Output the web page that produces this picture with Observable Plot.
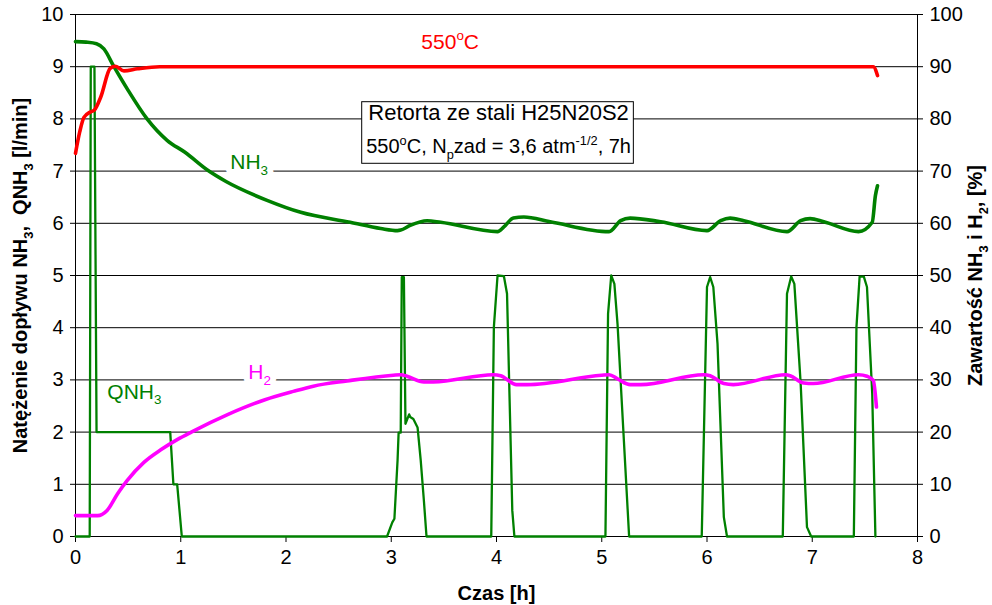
<!DOCTYPE html>
<html>
<head>
<meta charset="utf-8">
<script src="https://cdn.jsdelivr.net/npm/d3@7"></script>
<script src="https://cdn.jsdelivr.net/npm/@observablehq/plot@0.6"></script>
<style>
  html, body { margin: 0; padding: 0; background: #fff; }
</style>
</head>
<body>
<div id="chart"></div>
<script>
// ---- Data (time [h], left-axis value; right axis = left × 10) ----
const xTicks = [0, 1, 2, 3, 4, 5, 6, 7, 8];
const yTicks = [0, 1, 2, 3, 4, 5, 6, 7, 8, 9, 10];

// Temperature trace (550°C, drawn at level 9)
const temp = [[0,7.34],[0.04,7.75],[0.08,8.03],[0.14,8.13],[0.18,8.17],[0.24,8.42],[0.33,8.97],[0.38,9.01],[0.46,8.92],[0.59,8.96],[0.8,9.0],[1.5,9.0],[3.0,9.0],[5.0,9.0],[7.58,9.0],[7.62,8.83]];

// NH3 content [%/10]
const nh3 = [[0,9.48],[0.1,9.47],[0.2,9.44],[0.27,9.34],[0.36,9.02],[0.49,8.58],[0.68,8.0],[0.87,7.59],[1.04,7.36],[1.26,7.01],[1.43,6.8],[1.82,6.44],[2.14,6.21],[2.61,6.02],[2.9,5.9],[3.06,5.86],[3.09,5.87],[3.18,5.96],[3.34,6.05],[3.47,6.02],[4.01,5.84],[4.07,5.93],[4.16,6.10],[4.26,6.12],[4.51,6.03],[5.07,5.84],[5.18,6.05],[5.27,6.10],[5.56,6.03],[6.0,5.86],[6.13,6.05],[6.22,6.10],[6.35,6.05],[6.76,5.84],[6.89,6.05],[6.98,6.09],[7.11,6.03],[7.44,5.84],[7.57,6.02],[7.60,6.53],[7.62,6.72]];

// H2 content [%/10]
const h2 = [[0,0.40],[0.21,0.40],[0.30,0.50],[0.40,0.82],[0.49,1.07],[0.65,1.42],[0.81,1.66],[0.97,1.86],[1.1,2.0],[1.45,2.34],[1.8,2.62],[2.07,2.78],[2.26,2.88],[2.58,2.98],[3.02,3.09],[3.09,3.10],[3.15,3.07],[3.31,2.96],[3.40,2.96],[3.97,3.10],[4.04,3.08],[4.19,2.91],[4.29,2.91],[5.0,3.09],[5.07,3.10],[5.15,3.02],[5.27,2.91],[5.37,2.91],[5.97,3.10],[6.03,3.08],[6.16,2.93],[6.25,2.91],[6.75,3.10],[6.79,3.08],[6.92,2.94],[7.01,2.93],[7.44,3.10],[7.52,3.07],[7.58,2.99],[7.61,2.48]];

// QNH3 flow [l/min]
const qnh3 = [[0,0],[0.135,0],[0.145,9],[0.18,9],[0.20,2],[0.5,2],[0.9,2],[0.93,1],[0.966,1],[1.01,0],[2.96,0],[3.01,0.27],[3.03,0.34],[3.06,1.46],[3.07,1.99],[3.09,1.99],[3.10,4.97],[3.12,4.97],[3.135,2.16],[3.17,2.34],[3.18,2.29],[3.21,2.25],[3.25,2.09],[3.28,1.46],[3.31,0.69],[3.335,0],[3.95,0],[3.975,4.01],[4.01,5.0],[4.07,4.99],[4.10,4.65],[4.15,0.5],[4.17,0],[5.035,0],[5.06,4.27],[5.09,5.0],[5.12,4.84],[5.15,4.07],[5.26,0],[5.95,0],[6.0,4.78],[6.03,4.97],[6.06,4.78],[6.10,3.69],[6.16,0.37],[6.19,0],[6.72,0],[6.76,4.65],[6.80,4.98],[6.83,4.84],[6.89,2.93],[6.95,0.18],[6.99,0],[7.395,0],[7.42,4.01],[7.45,4.98],[7.49,4.98],[7.52,4.78],[7.57,2.73],[7.60,0]];

// ---- Annotations (data coordinates) ----
const box = [{x1: 2.724, x2: 5.305, y1: 7.14, y2: 8.32}];
const labelTemp = [{x: 3.56, y: 9.47, key: "T550"}];
const labelBox1 = [{x: 4.02, y: 8.12, key: "Retorta ze stali H25N20S2"}];
const labelBox2 = [{x: 4.02, y: 7.46, key: "BOX2"}];
const labelNH3 = [{x: 1.65, y: 7.17, key: "NH3"}];
const labelH2 = [{x: 1.75, y: 3.14, key: "H2"}];
const labelQ = [{x: 0.56, y: 2.77, key: "QNH3"}];

const rich = {
  "T550": [["550"], ["o", "sup"], ["C"]],
  "BOX2": [["550"], ["o", "sup"], ["C, N"], ["p", "sub"], ["zad = 3,6 atm"], ["-1/2", "sup"], [", 7h"]],
  "NH3": [["NH"], ["3", "sub"]],
  "H2": [["H"], ["2", "sub"]],
  "QNH3": [["QNH"], ["3", "sub"]],
  "YLEFT": [["Natężenie dopływu NH"], ["3", "sub"], [",  QNH"], ["3", "sub"], [" [l/min]"]],
  "YRIGHT": [["Zawartość NH"], ["3", "sub"], [" i H"], ["2", "sub"], [", [%]"]]
};

const GREEN = "#008000", RED = "#ff0000", MAGENTA = "#ff00ff";
const FONT = "'Liberation Sans', Arial, Helvetica, sans-serif";
const lbl = {x: "x", y: "y", text: "key", fontSize: 21, textAnchor: "middle", lineAnchor: "middle"};

const svg = Plot.plot({
  width: 992,
  height: 605,
  marginLeft: 75,
  marginRight: 75,
  marginTop: 14,
  marginBottom: 69,
  x: {domain: [0, 8]},
  y: {domain: [0, 10]},
  style: {fontFamily: FONT, fontSize: "20px", color: "#000", background: "#fff"},
  marks: [
    Plot.gridY(yTicks, {stroke: "#000", strokeOpacity: 1, strokeWidth: 1}),
    Plot.ruleX([0, 8], {stroke: "#000", strokeWidth: 1}),
    Plot.ruleY([0], {stroke: "#000", strokeWidth: 1}),
    Plot.axisX(xTicks, {tickSize: 6, tickPadding: 7, label: null, fontSize: 20, tickFormat: d => String(d)}),
    Plot.axisY(yTicks, {anchor: "left", tickSize: 5, tickPadding: 7, label: null, fontSize: 20, tickFormat: d => String(d)}),
    Plot.axisY(yTicks, {anchor: "right", tickSize: 5, tickPadding: 7, label: null, fontSize: 20, tickFormat: d => String(d * 10)}),
    Plot.line(qnh3, {stroke: GREEN, strokeWidth: 2.3, curve: "linear"}),
    Plot.line(h2, {stroke: MAGENTA, strokeWidth: 3.6, curve: "monotone-x"}),
    Plot.line(nh3, {stroke: GREEN, strokeWidth: 3.6, curve: "monotone-x"}),
    Plot.line(temp, {stroke: RED, strokeWidth: 3.6, curve: "monotone-x"}),
    Plot.rect(box, {x1: "x1", x2: "x2", y1: "y1", y2: "y2", fill: "#fff", stroke: "#000", strokeWidth: 1}),
    // white masks behind the in-plot series labels
    Plot.text(labelNH3, {...lbl, fill: "#fff", stroke: "#fff", strokeWidth: 12}),
    Plot.text(labelH2, {...lbl, fill: "#fff", stroke: "#fff", strokeWidth: 12}),
    Plot.text(labelTemp, {...lbl, fill: RED}),
    Plot.text(labelBox1, {...lbl, fontSize: 22, fill: "#000"}),
    Plot.text(labelBox2, {...lbl, fontSize: 20, fill: "#000"}),
    Plot.text(labelNH3, {...lbl, fill: GREEN}),
    Plot.text(labelH2, {...lbl, fill: MAGENTA}),
    Plot.text(labelQ, {...lbl, fill: GREEN}),
    Plot.text(["Czas [h]"], {frameAnchor: "bottom", dy: 57, fontSize: 20, fontWeight: "bold", textAnchor: "middle", lineAnchor: "middle"}),
    Plot.text(["YLEFT"], {frameAnchor: "left", dx: -55, rotate: -90, fontSize: 20, fontWeight: "bold", textAnchor: "middle", lineAnchor: "middle"}),
    Plot.text(["YRIGHT"], {frameAnchor: "right", dx: 58, rotate: -90, fontSize: 20, fontWeight: "bold", textAnchor: "middle", lineAnchor: "middle"})
  ]
});

// Rich text: subscripts / superscripts as tspans
const NS = "http://www.w3.org/2000/svg";
d3.select(svg).selectAll("text").each(function () {
  const key = this.textContent;
  const parts = rich[key];
  if (!parts) return;
  const fs = parseFloat(this.getAttribute("font-size")) || parseFloat(this.parentNode.getAttribute("font-size")) || 20;
  while (this.firstChild) this.removeChild(this.firstChild);
  let shift = 0;
  for (const [s, mode] of parts) {
    const ts = document.createElementNS(NS, "tspan");
    ts.textContent = s;
    const target = mode === "sub" ? 0.28 : mode === "sup" ? -0.42 : 0;
    const delta = (target - shift) * fs;
    if (Math.abs(delta) > 1e-6) ts.setAttribute("dy", delta + "px");
    shift = target;
    if (mode) ts.setAttribute("font-size", (fs * 0.64) + "px");
    this.appendChild(ts);
  }
});

document.getElementById("chart").appendChild(svg);
</script>
</body>
</html>
